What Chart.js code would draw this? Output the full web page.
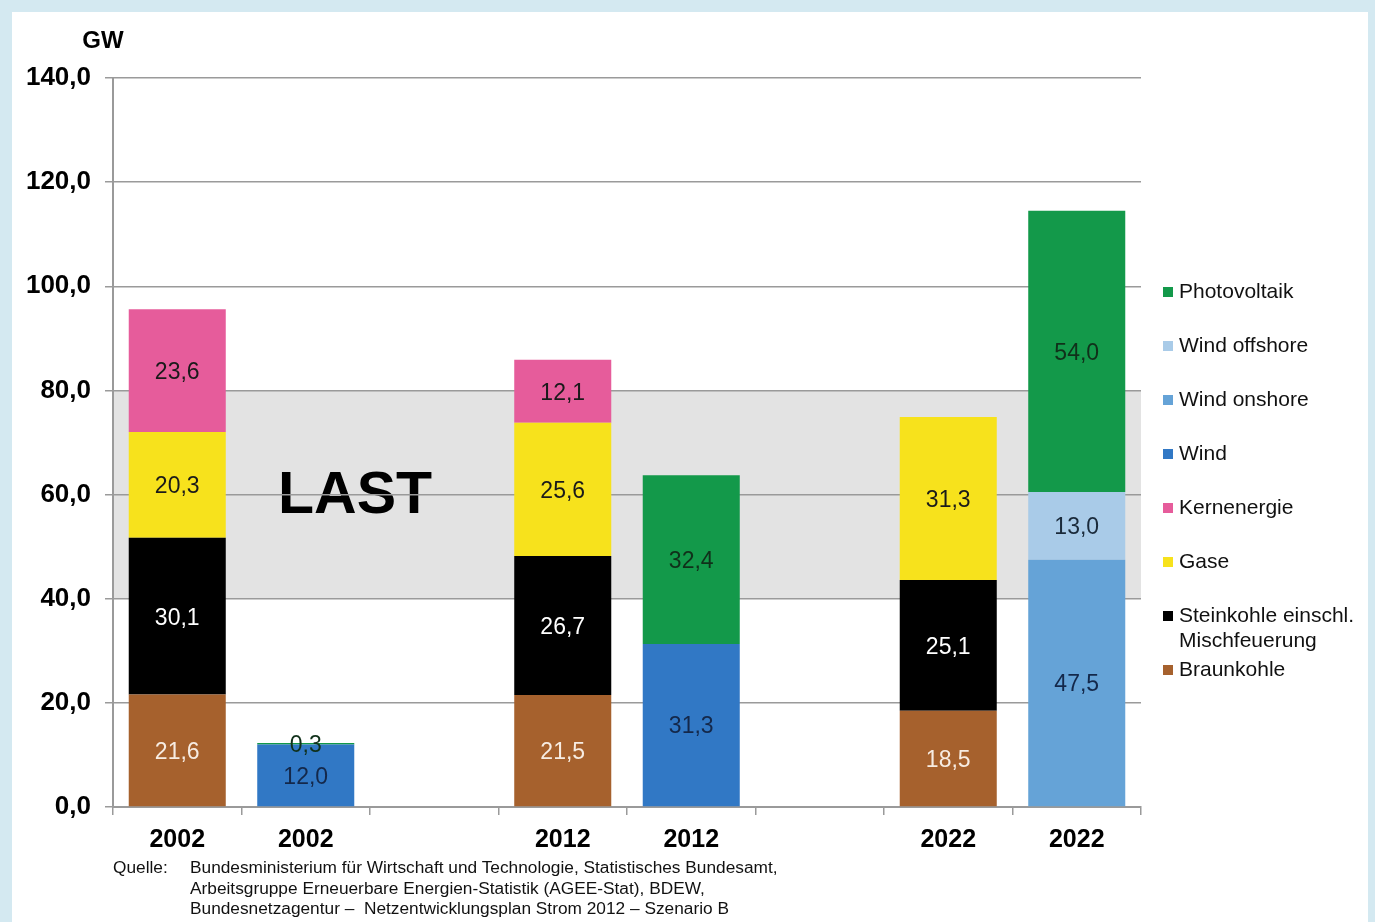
<!DOCTYPE html>
<html>
<head>
<meta charset="utf-8">
<script src="https://cdn.jsdelivr.net/npm/chart.js@4.4.1/dist/chart.umd.min.js"></script>
<style>
    html, body { margin: 0; padding: 0; }
    body { width: 1375px; height: 922px; background: #d4e9f1; position: relative; overflow: hidden; font-family: 'Liberation Sans', Arial, sans-serif; }
    #panel { position: absolute; left: 12px; top: 12px; width: 1356px; height: 910px; background: #fff; }
    #mixChart { position: absolute; left: 0; top: 0; }
    .src { position: absolute; font-size: 17.3px; color: #111; line-height: 20.5px; white-space: nowrap; }
</style>
</head>
<body>
<div id="panel"></div>
<canvas id="mixChart" width="1375" height="922"></canvas>
<div class="src" style="left:113px; top:857px;">Quelle:</div>
<div class="src" style="left:190px; top:857px;">Bundesministerium für Wirtschaft und Technologie, Statistisches Bundesamt,<br>Arbeitsgruppe Erneuerbare Energien-Statistik (AGEE-Stat), BDEW,<br>Bundesnetzagentur –&nbsp; Netzentwicklungsplan Strom 2012 – Szenario B</div>
<script>
(function () {
    // categories (empty slots are the gaps between year groups)
    const years = ['2002', '2002', '', '2012', '2012', '', '2022', '2022'];

    // GW per source, bottom of the stack first
    const braunkohle   = [21.6, null, null, 21.5, null, null, 18.5, null];
    const steinkohle   = [30.1, null, null, 26.7, null, null, 25.1, null];
    const gase         = [20.3, null, null, 25.6, null, null, 31.3, null];
    const kernenergie  = [23.6, null, null, 12.1, null, null, null, null];
    const wind         = [null, 12.0, null, null, 31.3, null, null, null];
    const windOnshore  = [null, null, null, null, null, null, null, 47.5];
    const windOffshore = [null, null, null, null, null, null, null, 13.0];
    const photovoltaik = [null, 0.3, null, null, 32.4, null, null, 54.0];

    const yTicks = [0, 20, 40, 60, 80, 100, 120, 140];
    const lastBand = [40, 80];   // Last (load) range
    const lastLabelValue = 60;

    const font = "'Liberation Sans', Arial, sans-serif";
    const fmt = v => v.toFixed(1).replace('.', ',');

    const series = [
        { label: 'Braunkohle', data: braunkohle, color: '#a6612d', text: '#f7ece2' },
        { label: 'Steinkohle einschl.\nMischfeuerung', data: steinkohle, color: '#000000', text: '#ffffff' },
        { label: 'Gase', data: gase, color: '#f7e21c', text: '#1a1a1a' },
        { label: 'Kernenergie', data: kernenergie, color: '#e65c9b', text: '#1a1a1a' },
        { label: 'Wind', data: wind, color: '#3178c5', text: '#14284a' },
        { label: 'Wind onshore', data: windOnshore, color: '#65a3d7', text: '#14284a' },
        { label: 'Wind offshore', data: windOffshore, color: '#a9cbe8', text: '#1a2a3a' },
        { label: 'Photovoltaik', data: photovoltaik, color: '#13994a', text: '#10301a' }
    ];

    const backdrop = {
        id: 'backdrop',
        beforeDraw(chart) {
            const { ctx, chartArea, scales } = chart;
            const yTop = scales.y.getPixelForValue(lastBand[1]);
            const yBot = scales.y.getPixelForValue(lastBand[0]);
            ctx.save();
            ctx.fillStyle = '#e3e3e3';
            ctx.fillRect(chartArea.left, yTop, chartArea.right - chartArea.left, yBot - yTop);
            ctx.fillStyle = '#000';
            ctx.font = 'bold 59px ' + font;
            ctx.textAlign = 'left';
            ctx.textBaseline = 'middle';
            ctx.fillText('LAST', chartArea.left + 165, scales.y.getPixelForValue(lastLabelValue) + 2);
            ctx.font = 'bold 24px ' + font;
            ctx.textAlign = 'center';
            ctx.fillText('GW', 103, 41);
            ctx.restore();
        }
    };

    const valueLabels = {
        id: 'valueLabels',
        afterDatasetsDraw(chart) {
            const { ctx } = chart;
            ctx.save();
            ctx.font = '23px ' + font;
            ctx.textAlign = 'center';
            ctx.textBaseline = 'middle';
            chart.data.datasets.forEach((ds, i) => {
                const meta = chart.getDatasetMeta(i);
                meta.data.forEach((bar, j) => {
                    const v = ds.data[j];
                    if (v === null || v === undefined) return;
                    ctx.fillStyle = series[i].text;
                    ctx.fillText(fmt(v), bar.x, (bar.y + bar.base) / 2 + 2);
                });
            });
            ctx.restore();
        }
    };

    const sideLegend = {
        id: 'sideLegend',
        afterDraw(chart) {
            const { ctx, chartArea } = chart;
            const x = chartArea.right + 22;
            let y = chartArea.top + 214;
            ctx.save();
            ctx.font = '21px ' + font;
            ctx.textAlign = 'left';
            ctx.textBaseline = 'middle';
            series.slice().reverse().forEach(s => {
                ctx.fillStyle = s.color;
                ctx.fillRect(x, y - 5, 10, 10);
                ctx.fillStyle = '#111';
                s.label.split('\n').forEach((line, k) => {
                    ctx.fillText(line, x + 16, y + k * 25);
                });
                y += 54;
            });
            ctx.restore();
        }
    };

    new Chart(document.getElementById('mixChart'), {
        type: 'bar',
        data: {
            labels: years,
            datasets: series.map(s => ({
                label: s.label,
                data: s.data,
                backgroundColor: s.color,
                borderWidth: 0,
                categoryPercentage: 1,
                barPercentage: 0.755,
                skipNull: false
            }))
        },
        options: {
            responsive: false,
            animation: false,
            devicePixelRatio: 1,
            layout: { padding: { top: 78, right: 234, left: 0, bottom: 0 } },
            plugins: {
                legend: { display: false },
                tooltip: { enabled: false }
            },
            scales: {
                x: {
                    stacked: true,
                    border: { color: '#9a9a9a', width: 2 },
                    grid: { display: true, drawOnChartArea: false, color: '#9a9a9a', lineWidth: 1.5, tickLength: 8, offset: true },
                    ticks: { color: '#000', padding: 10, font: { family: font, size: 25, weight: 'bold' }, maxRotation: 0, autoSkip: false },
                    afterFit(s) { s.height = 115; }
                },
                y: {
                    stacked: true,
                    min: 0,
                    max: 140,
                    afterBuildTicks(s) { s.ticks = yTicks.map(v => ({ value: v })); },
                    border: { color: '#9a9a9a', width: 2 },
                    grid: { color: '#9a9a9a', lineWidth: 1.5, tickLength: 8 },
                    ticks: {
                        color: '#000',
                        padding: 14,
                        font: { family: font, size: 26, weight: 'bold' },
                        callback: v => fmt(v)
                    },
                    afterFit(s) { s.width = 113; }
                }
            }
        },
        plugins: [backdrop, valueLabels, sideLegend]
    });
})();
</script>
</body>
</html>
